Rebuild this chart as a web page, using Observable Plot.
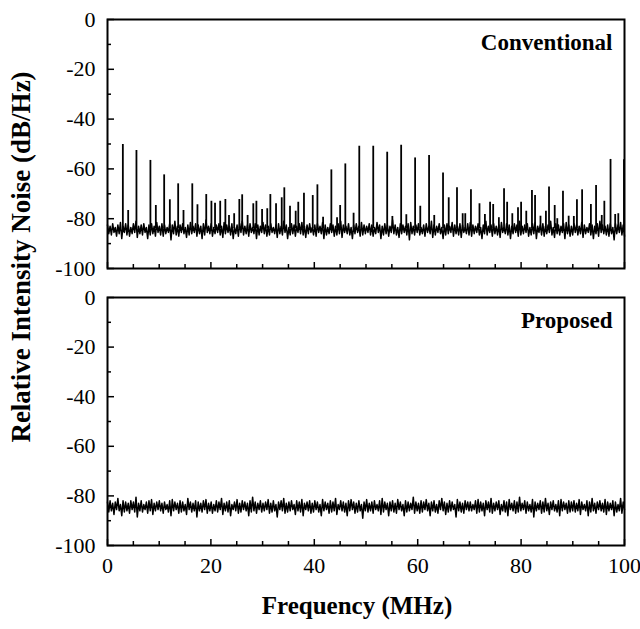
<!DOCTYPE html>
<html><head><meta charset="utf-8">
<script src="https://cdn.jsdelivr.net/npm/d3@7"></script>
<script src="https://cdn.jsdelivr.net/npm/@observablehq/plot@0.6"></script>
<style>
body{margin:0;background:#fff;}
#chart{position:relative;width:640px;height:629px;font-family:"Liberation Serif","Times New Roman",serif;color:#000;}
#top,#bottom{position:absolute;left:0;}
#top{top:0px}
#bottom{top:279px}
.ttl{position:absolute;font-weight:bold;white-space:nowrap;line-height:1;}
#xtitle{font-size:25px;left:357px;top:593px;transform:translateX(-50%);}
#ytitle{font-size:27px;left:21px;top:257px;transform:translate(-50%,-50%) rotate(-90deg);}
</style></head><body>
<div id="chart"><div id="top"></div><div id="bottom"></div>
<div class="ttl" id="ytitle"></div><div class="ttl" id="xtitle"></div></div>
<script>
const panelLabels = ["Conventional", "Proposed"];
const xTitle = "Frequency (MHz)";
const yTitle = "Relative Intensity Noise (dB/Hz)";
const xMajor = [0, 20, 40, 60, 80, 100];
const xMinor = [5, 10, 15, 25, 30, 35, 45, 50, 55, 65, 70, 75, 85, 90, 95];
const yMajor = [0, -20, -40, -60, -80, -100];
const yMinor = [-10, -30, -50, -70, -90];
const spikeBase = -84;

const spikeFreq = [2.97,4.0,5.6,8.3,9.35,10.96,12.06,13.67,14.7,16.4,17.4,19.1,20.1,20.8,21.8,22.8,23.5,24.5,25.5,26.05,27.1,28.2,28.8,29.9,30.9,31.5,32.6,33.7,34.2,35.3,36.4,36.9,38.0,39.7,40.6,41.7,43.3,44.4,45.0,46.0,47.6,48.7,51.4,54.1,55.1,56.8,57.8,59.5,60.5,62.2,63.2,64.9,66.0,67.6,68.7,69.2,70.3,71.95,73.0,74.0,74.6,75.7,76.7,77.3,78.3,79.4,80.0,81.0,82.1,82.7,83.75,84.8,85.4,86.5,87.0,88.1,89.2,90.2,90.8,91.8,93.5,94.5,95.6,96.1,97.3,98.2,98.8,99.9];
const spikePeak = [-50.2,-76.7,-52.6,-56.6,-74.7,-62.4,-72.4,-66,-76.7,-66,-74.4,-70.3,-73,-73.8,-73,-72.3,-78.7,-78,-72.3,-70.4,-78.7,-74,-73,-76.3,-76,-70.3,-74,-71.6,-67.6,-75,-77,-73.4,-69.8,-70.7,-66.4,-79.4,-60.4,-79.6,-74.7,-58,-77.8,-50.9,-50.9,-53.3,-79.1,-50.5,-78.4,-55.6,-75,-54.6,-78.7,-61.6,-71.6,-67.6,-78,-78,-68.4,-74,-78.3,-73.4,-74.3,-79.6,-68,-73.4,-78,-75.6,-73.4,-77,-68.7,-70.7,-79,-77,-67.3,-74.7,-80,-69,-79,-79.1,-72.4,-68.4,-74.3,-66.7,-78.7,-73,-56.2,-78.3,-78,-56.3];

// noise floor: upper and lower excursions of the trace, alternating along frequency
const noiseTopHi = [
-82.5,-83,-82,-83.5,-82.5,-81.5,-83,-82,-82.5,-83.5,-82,-81,-83,-82.5,-82,-83.5,-82.5,-82,-83,-81.5,
-83,-82,-82.5,-83.5,-82,-82.5,-81,-83,-82.5,-82,-83.5,-82.5,-81.5,-83,-82,-82.5,-83,-82,-80.5,-83,
-82,-83.5,-82.5,-82,-83,-81.5,-82.5,-83,-82,-83.5,-82.5,-82,-81,-83,-82.5,-82,-83.5,-82,-82.5,-83,
-81.5,-82.5,-83,-82,-83.5,-82.5,-82,-83,-81,-82.5,-83.5,-82,-82.5,-83,-82,-81.5,-83,-82.5,-82,-83.5,
-82.5,-82,-83,-81.5,-82.5,-83.5,-82,-82.5,-83,-82,-81,-82.5,-83,-82,-83.5,-82.5,-82,-83,-81.5,-82.5,
-83,-82,-82.5,-83.5,-81.5,-82.5,-83,-82,-82.5,-83,-80.5,-82.5,-83.5,-82,-82.5,-83,-82,-81.5,-83,-82.5,
-82,-83.5,-82.5,-82,-83,-81,-82.5,-83,-82,-83.5,-82.5,-82,-83,-81.5,-82.5,-83,-82,-82.5,-83.5,-82,
-81.5,-82.5,-83,-82,-83.5,-82.5,-81,-83,-82.5,-82,-83,-82.5,-81.5,-83.5,-82,-82.5,-83,-82,-82.5,-81,
-83,-82.5,-82,-83.5,-82,-81.5,-83,-82.5,-82,-83,-82.5,-81,-83.5,-82,-82.5,-83,-82,-81.5,-82.5,-83,
-82,-82.5,-83,-81.5,-82.5,-83.5,-82,-82.5,-83,-82,-81,-82.5,-83,-82.5,-82,-83.5,-82,-82.5,-81.5,-82.5];
const noiseTopLo = [
-86,-86.5,-85.5,-87,-86,-88,-85.5,-86.5,-87,-86,-85.5,-87.5,-86,-86.5,-85.5,-88,-86.5,-86,-87,-85.5,
-86.5,-87,-86,-85.5,-88.5,-86,-86.5,-87,-85.5,-86,-87.5,-86.5,-86,-85.5,-87,-86,-88,-86.5,-85.5,-86,
-87,-86,-85.5,-86.5,-87.5,-86,-85.5,-86.5,-88,-86,-87,-85.5,-86.5,-86,-87,-85.5,-86,-88,-86.5,-85.5,
-86,-87,-86.5,-85.5,-86,-87.5,-86,-86.5,-85.5,-88,-86.5,-86,-87,-85.5,-86,-86.5,-87.5,-86,-85.5,-86.5,
-87,-85.5,-86,-88,-86.5,-86,-85.5,-87,-86.5,-86,-87.5,-85.5,-86,-86.5,-88,-86,-85.5,-87,-86.5,-86,
-85.5,-86.5,-87,-86,-85.5,-88,-86.5,-86,-87,-85.5,-86,-86.5,-87.5,-86,-85.5,-86.5,-88.5,-86,-86.5,-85.5,
-86.5,-86,-87,-85.5,-86,-87.5,-86.5,-85.5,-86,-88,-86.5,-86,-85.5,-87,-86,-86.5,-87.5,-85.5,-86,-86.5,
-87,-86,-85.5,-86.5,-88,-86,-86.5,-85.5,-87,-86,-86.5,-87.5,-85.5,-86,-86.5,-88,-86,-85.5,-87,-86.5,
-86,-85.5,-87,-86.5,-86,-88,-85.5,-86.5,-87,-86,-85.5,-86.5,-87.5,-86,-86.5,-85.5,-88,-86,-87,-86.5,
-85.5,-86.5,-86,-87.5,-86,-85.5,-86.5,-88,-86,-87,-85.5,-86,-86.5,-87,-86,-88.5,-86,-85.5,-86.5,-87];
const noiseBottomHi = [
-82.5,-82,-83,-82.5,-81,-83.5,-82,-82.5,-83,-82,-82.5,-80.5,-83,-82,-83.5,-82.5,-82,-81.5,-83,-82.5,
-82,-83,-82.5,-83.5,-82,-81.5,-82.5,-83,-82,-82.5,-83.5,-81,-82.5,-83,-82,-82.5,-83,-82,-81.5,-83,
-82.5,-83.5,-82,-82.5,-81,-83,-82.5,-82,-83.5,-82.5,-81.5,-83,-82,-82.5,-83,-82,-80.5,-82.5,-83,-82,
-83,-82.5,-81.5,-83,-82,-83.5,-82.5,-82,-81,-83,-82.5,-82,-83.5,-82,-82.5,-81.5,-83,-82.5,-82,-83,
-82,-82.5,-83.5,-81.5,-82.5,-83,-82,-82.5,-81,-83.5,-82,-82.5,-83,-82,-81.5,-82.5,-83,-82,-83.5,-82.5,
-81.5,-83,-82.5,-82,-83.5,-82,-81,-82.5,-83,-82.5,-82,-83,-81.5,-82.5,-83.5,-82,-82.5,-83,-80.5,-82.5,
-83,-82,-82.5,-81.5,-83,-82.5,-82,-83.5,-82,-81,-82.5,-83,-82,-82.5,-83.5,-81.5,-82.5,-83,-82,-82.5,
-82.5,-83.5,-82,-81.5,-82.5,-83,-82,-82.5,-81,-83,-82.5,-82,-83.5,-82,-82.5,-81.5,-83,-82,-82.5,-80.5,
-83,-82,-82.5,-83.5,-81.5,-82.5,-83,-82,-82.5,-81,-83,-82.5,-82,-83.5,-82,-81.5,-82.5,-83,-82,-82.5,
-82,-83,-81.5,-82.5,-83.5,-82,-82.5,-81,-83,-82.5,-82,-83,-81.5,-82.5,-83,-82,-82.5,-83.5,-81,-82.5];
const noiseBottomLo = [
-86.5,-86,-87.5,-85.5,-86,-88,-86.5,-86,-87,-85.5,-86.5,-88.5,-86,-86.5,-85.5,-87,-86,-87.5,-86,-85.5,
-86,-87,-85.5,-86.5,-88,-86,-85.5,-87,-86.5,-86,-87.5,-85.5,-86.5,-86,-88.5,-86,-86.5,-85.5,-87,-86,
-87,-86,-86.5,-85.5,-87.5,-86,-86.5,-88,-85.5,-86,-87,-86.5,-85.5,-86,-88,-86.5,-86,-87,-85.5,-86.5,
-86,-85.5,-87,-86.5,-86,-88.5,-85.5,-86,-87,-86.5,-86,-85.5,-87.5,-86,-86.5,-88,-85.5,-86,-87,-86.5,
-85.5,-86.5,-88,-86,-85.5,-87,-86.5,-86,-87.5,-85.5,-86,-86.5,-88,-86,-85.5,-87,-86.5,-86,-89,-86,
-86.5,-86,-87,-85.5,-86,-87.5,-86.5,-85.5,-88,-86,-86.5,-87,-85.5,-86,-88,-86.5,-86,-85.5,-87,-86,
-87,-86.5,-85.5,-86,-88,-86,-86.5,-87,-85.5,-86,-87.5,-86.5,-86,-85.5,-88.5,-86,-86.5,-87,-85.5,-86,
-86,-85.5,-87,-86.5,-86,-88,-85.5,-86.5,-87,-86,-85.5,-87.5,-86,-86.5,-88,-85.5,-86,-87,-86.5,-86,
-85.5,-87,-86,-86.5,-88.5,-86,-85.5,-87,-86.5,-86,-87.5,-85.5,-86,-86.5,-88,-86,-85.5,-87,-86.5,-86,
-86.5,-86,-87.5,-85.5,-86,-88,-86.5,-86,-87,-85.5,-86,-86.5,-87.5,-86,-85.5,-88,-86.5,-86,-87,-85.5];

const FONT = '"Liberation Serif","Times New Roman",serif';

function traceRows(hi, lo) {
  const n = hi.length * 2;
  const rows = [];
  hi.forEach((h, i) => {
    rows.push({f: (2 * i) * 100 / (n - 1), v: h});
    rows.push({f: (2 * i + 1) * 100 / (n - 1), v: lo[i]});
  });
  return rows;
}

function panel(hi, lo, spikes, label, showX, height, marginTop, marginBottom) {
  return Plot.plot({
    width: 640, height, marginTop, marginBottom, marginLeft: 107, marginRight: 16,
    style: {fontFamily: FONT, fontSize: "22px", color: "#000", background: "transparent", overflow: "visible"},
    x: {domain: [0, 100]},
    y: {domain: [-100, 0]},
    marks: [
      Plot.line(traceRows(hi, lo), {x: "f", y: "v", stroke: "#000", strokeWidth: 1.5}),
      Plot.ruleX(spikes, {x: "f", y1: spikeBase, y2: "p", stroke: "#000", strokeWidth: 1.8}),
      Plot.axisY(yMajor, {tickSize: -7, text: null, strokeWidth: 1.5, label: null}),
      Plot.axisY(yMinor, {tickSize: -4, text: null, strokeWidth: 1.5, label: null}),
      Plot.axisY(yMajor, {tickSize: 0, tickPadding: 12, tickFormat: d => String(d), fontSize: 22, label: null}),
      Plot.axisX(xMajor, {tickSize: -6, text: null, strokeWidth: 1.5, label: null}),
      Plot.axisX(xMinor, {tickSize: -4, text: null, strokeWidth: 1.5, label: null}),
      showX ? Plot.axisX(xMajor, {tickSize: 0, tickPadding: 12, tickFormat: d => String(d), fontSize: 22, label: null}) : null,
      Plot.frame({stroke: "#000", strokeWidth: 2}),
      Plot.text([label], {frameAnchor: "top-right", dx: -12, dy: 14, text: d => d, fontWeight: "bold", fontSize: 23, lineAnchor: "top", textAnchor: "end"})
    ]
  });
}

const spikes = spikeFreq.map((f, i) => ({f, p: spikePeak[i]}));
document.getElementById("top").append(panel(noiseTopHi, noiseTopLo, spikes, panelLabels[0], false, 280, 19, 12));
document.getElementById("bottom").append(panel(noiseBottomHi, noiseBottomLo, [], panelLabels[1], true, 350, 18, 84));
document.getElementById("xtitle").textContent = xTitle;
document.getElementById("ytitle").textContent = yTitle;
</script>
</body></html>
